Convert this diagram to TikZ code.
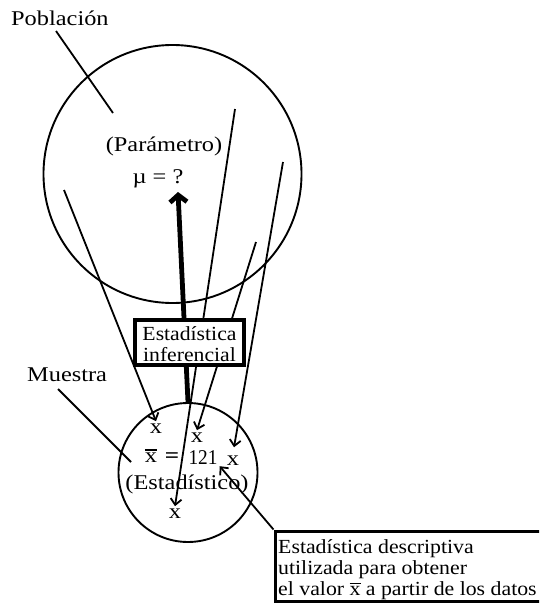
\documentclass[tikz,border=0pt]{standalone}
\usepackage{fontspec}
\setmainfont{Liberation Serif}
\usetikzlibrary{arrows.meta}
\newcommand\hs[2]{\scalebox{#1}[1]{#2}}
\newcommand\xbarx[1]{\hbox{\vbox{\hrule height #1\kern1.6pt\hbox{x}}}}
\begin{document}
\begin{tikzpicture}[x=1pt,y=-1pt,
  thinln/.style={line width=1.8pt},
  arr/.style={line width=1.8pt,-{Straight Barb[length=6pt,width=11pt]}},
  thickarr/.style={line width=4.8pt,-{Straight Barb[length=7pt,width=17pt]}},
  ring/.style={draw,circle,line width=1.9pt,inner sep=0pt},
  lbl/.style={font=\fontsize{21}{22}\selectfont,inner sep=0pt},
  xn/.style={font=\fontsize{21}{22}\selectfont,inner sep=2pt},
  boxtxt/.style={font=\fontsize{20}{21}\selectfont,inner sep=0pt},
  frame/.style={draw,line width=3.8pt,fill=white,inner sep=0pt}
]
\useasboundingbox (0,0) rectangle (539,605);
\clip (0,0) rectangle (539,605);

% circles
\node[ring,minimum size=258pt] (pop) at (172.5,174) {};
\node[ring,minimum size=139pt] (smp) at (188,472.5) {};

% texts
\node[lbl,anchor=base west] (poblab) at (11,25) {\hs{1.16}{Población}};
\node[lbl,anchor=base west] (muelab) at (27,381) {\hs{1.16}{Muestra}};
\node[lbl,anchor=base] (param) at (164,151.5) {\hs{1.16}{(Parámetro)}};
\node[lbl,anchor=base] (mu) at (158,183) {\hs{1.16}{µ = ?}};
\node[lbl,anchor=base] (est) at (187,489) {\hs{1.16}{(Estadístico)}};
\node[xn,anchor=base] (x1) at (156,433) {\hs{1.16}{x}};
\node[xn,anchor=base] (x2) at (197,442) {\hs{1.16}{x}};
\node[xn,anchor=base] (x3) at (233,465) {\hs{1.16}{x}};
\node[xn,anchor=base] (x4) at (175,518) {\hs{1.16}{x}};
\node[lbl,anchor=base] (xbar) at (151,462) {\hs{1.16}{\xbarx{1.8pt}}};
\node[lbl,anchor=base] (eq) at (172,462) {\hs{1.2}{\textbf{=}}};
\node[xn,anchor=base] (n121) at (203,464) {\hs{0.92}{121}};

% leader lines
\coordinate (pl1) at (56,31);
\coordinate (pl2) at (113,113);
\draw[thinln] (pl1) -- (pl2);
\coordinate (ml1) at (58,389);
\coordinate (ml2) at (131,462);
\draw[thinln] (ml1) -- (ml2);

% sample arrows
\coordinate (pA) at (64,190);
\coordinate (pB) at (235,109);
\coordinate (pC) at (283,162);
\coordinate (pD) at (256,242);
\draw[arr] (pA) -- (x1.north);
\draw[arr] (pB) -- (x4.north);
\draw[arr,shorten >=6pt] (pC) -- (x3.north);
\draw[arr] (pD) -- (x2.north);

% inference arrow
\coordinate (mutip) at (178,192);
\draw[thickarr] (smp.north) -- (mutip);

% inference box
\node[frame,minimum width=109pt,minimum height=45.5pt] (infbox) at (189.5,342.5) {};
\node[boxtxt,anchor=base] (inftext) at (189.5,340)
  {\hs{1.085}{\begin{tabular}[t]{@{}c@{}}Estadística\\ inferencial\end{tabular}}};

% descriptive box
\node[draw,line width=3pt,anchor=north west,minimum width=300pt,minimum height=70pt,inner sep=0pt] (desc) at (273.5,529.5) {};
\node[boxtxt,anchor=base west] (desctext) at (278,553)
  {\hs{1.09}{\begin{tabular}[t]{@{}l@{}}Estadística descriptiva\\ utilizada para obtener\\ el valor \xbarx{0.8pt} a partir de los datos\end{tabular}}};
\draw[arr] (desc.north west) -- (n121.south east);
\end{tikzpicture}
\end{document}
